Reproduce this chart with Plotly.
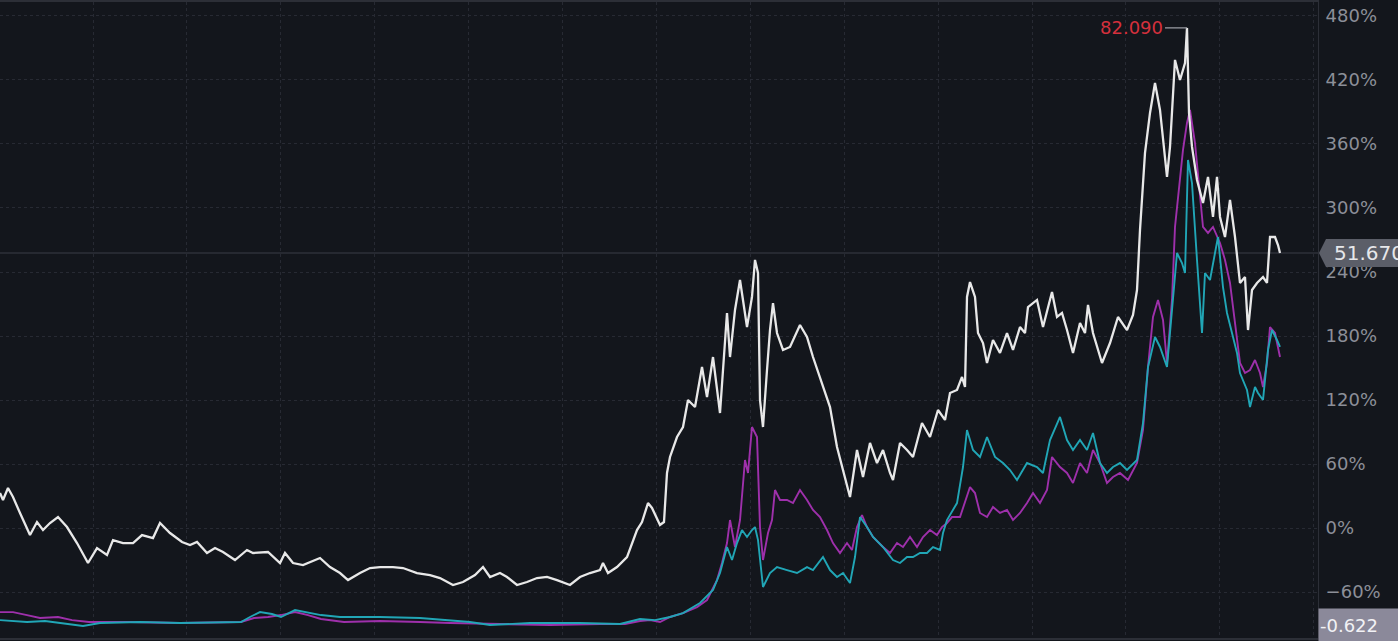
import plotly.graph_objects as go

# ---- data (trading-day index, % change) ----
white_day = [0, 3, 8, 13, 20, 30, 37, 43, 50, 58, 67, 77, 88, 97, 107, 113, 123, 133, 142, 153,
             160, 170, 182, 190, 197, 207, 215, 223, 235, 247, 253, 268, 280, 285, 293, 303, 320, 330, 340, 348,
             360, 370, 380, 393, 403, 417, 430, 440, 453, 463, 475, 483, 490, 500, 507, 517, 527, 537, 547, 557,
             570, 580, 590, 600, 603, 608, 617, 627, 637, 642, 648, 652, 660, 664, 667, 670, 677, 683, 688, 695,
             702, 707, 713, 720, 727, 730, 735, 740, 747, 752, 755, 758, 760, 763, 767, 770, 773, 777, 783, 790,
             800, 807, 813, 820, 830, 837, 843, 850, 857, 863, 870, 877, 883, 890, 893, 900, 907, 913, 922, 930,
             938, 945, 950, 957, 962, 965, 967, 970, 975, 978, 983, 987, 993, 1000, 1007, 1013, 1020, 1025, 1028, 1037,
             1043, 1052, 1057, 1062, 1067, 1073, 1080, 1085, 1088, 1093, 1102, 1110, 1118, 1127, 1133, 1137, 1140, 1145, 1150, 1155,
             1160, 1167, 1170, 1175, 1180, 1185, 1187, 1189, 1192, 1197, 1203, 1208, 1213, 1217, 1220, 1225, 1230, 1235, 1240, 1245,
             1248, 1252, 1257, 1263, 1267, 1270, 1275, 1278, 1280]
white_pct = [32.8, 26.3, 37.5, 29.1, 14.1, -6.6, 5.6, -1.9, 4.7, 10.3, 0.9, -14.1, -32.8, -18.8, -25.3, -11.3, -14.1, -14.1, -6.6, -9.4,
             4.7, -4.7, -13.1, -15.9, -13.1, -23.4, -18.8, -22.5, -30.0, -20.6, -23.4, -22.5, -32.8, -23.4, -32.8, -34.7, -28.1, -36.6, -42.2, -48.8,
             -42.2, -37.5, -36.6, -36.6, -37.5, -42.2, -44.1, -46.9, -53.4, -50.6, -44.1, -36.6, -45.9, -42.2, -45.9, -53.4, -50.6, -46.9, -45.9, -48.8,
             -53.4, -45.9, -42.2, -39.4, -32.8, -42.2, -36.6, -27.2, -1.9, 5.6, 23.4, 18.8, 2.8, 5.6, 51.6, 66.6, 85.3, 94.7, 120.0, 113.4,
             150.9, 122.8, 160.3, 107.8, 201.6, 160.3, 204.4, 232.5, 188.4, 216.6, 251.3, 239.1, 120.0, 94.7, 148.1, 185.6, 210.9, 182.8, 166.9, 169.7,
             190.3, 179.1, 160.3, 141.6, 113.4, 75.9, 54.4, 29.1, 73.1, 47.8, 79.7, 60.9, 73.1, 51.6, 45.0, 79.7, 73.1, 66.6, 98.4, 85.3,
             110.6, 101.3, 126.6, 129.4, 141.6, 132.2, 216.6, 230.6, 216.6, 182.8, 173.4, 154.7, 176.3, 164.1, 182.8, 166.9, 188.4, 182.8, 207.2, 213.8,
             188.4, 221.3, 197.8, 201.6, 185.6, 164.1, 192.2, 182.8, 209.1, 182.8, 154.7, 173.4, 197.8, 185.6, 199.7, 223.1, 279.4, 351.6, 389.1, 417.2,
             391.9, 329.1, 357.2, 438.8, 420.0, 435.9, 468.8, 389.1, 357.2, 326.3, 304.7, 329.1, 291.6, 329.1, 291.6, 272.8, 307.5, 272.8, 229.7, 235.3,
             185.6, 223.1, 229.7, 235.3, 229.7, 272.8, 272.8, 265.3, 257.8]

magenta_day = [0, 13, 27, 40, 58, 72, 89, 130, 180, 241, 254, 268, 281, 295, 308, 321, 344, 380, 420, 450,
               500, 550, 600, 625, 640, 650, 660, 670, 683, 697, 707, 713, 717, 722, 727, 730, 735, 740, 745, 748,
               752, 757, 760, 763, 768, 772, 775, 780, 787, 793, 800, 807, 813, 820, 827, 833, 840, 847, 852, 857,
               862, 867, 873, 883, 890, 897, 903, 910, 917, 923, 930, 937, 942, 947, 952, 960, 967, 970, 975, 980,
               987, 993, 1000, 1007, 1013, 1020, 1027, 1033, 1040, 1047, 1052, 1060, 1067, 1073, 1080, 1087, 1093, 1100, 1107, 1113,
               1120, 1128, 1137, 1143, 1148, 1153, 1158, 1163, 1167, 1172, 1175, 1180, 1183, 1187, 1190, 1195, 1200, 1203, 1208, 1213,
               1220, 1225, 1230, 1233, 1237, 1240, 1245, 1250, 1255, 1260, 1263, 1267, 1270, 1275, 1280]
magenta_pct = [-78.8, -78.8, -81.6, -84.4, -83.4, -86.3, -88.1, -88.1, -89.1, -88.1, -84.4, -83.4, -81.6, -78.8, -81.6, -85.3, -88.1, -87.2, -88.1, -89.1,
               -90.0, -90.9, -90.0, -90.0, -87.2, -86.3, -88.1, -83.4, -79.7, -74.1, -67.5, -55.3, -48.8, -32.8, -14.1, 7.5, -17.8, 7.5, 63.8, 51.6,
               94.7, 85.3, 0.9, -30.0, -4.7, 7.5, 35.6, 26.3, 26.3, 23.4, 35.6, 26.3, 16.9, 10.3, -1.9, -14.1, -23.4, -14.1, -20.6, 0.9,
               12.2, 0.9, -8.4, -17.8, -23.4, -14.1, -17.8, -8.4, -17.8, -8.4, -1.9, -6.6, 0.9, 4.7, 10.3, 10.3, 29.1, 38.4, 32.8, 14.1,
               10.3, 19.7, 14.1, 16.9, 7.5, 14.1, 23.4, 32.8, 23.4, 35.6, 66.6, 57.2, 51.6, 42.2, 60.9, 51.6, 73.1, 60.9, 42.2, 47.8,
               51.6, 45.0, 60.9, 91.9, 150.9, 197.8, 213.8, 195.0, 154.7, 213.8, 282.2, 326.3, 354.4, 379.7, 391.9, 360.9, 307.5, 282.2, 276.6, 282.2,
               267.2, 251.3, 229.7, 207.2, 182.8, 154.7, 145.3, 148.1, 157.5, 145.3, 132.2, 154.7, 188.4, 182.8, 160.3]

teal_day = [0, 13, 27, 45, 60, 83, 100, 140, 180, 241, 250, 260, 272, 281, 295, 305, 321, 340, 380, 420,
            470, 490, 530, 580, 620, 640, 655, 670, 683, 700, 713, 720, 727, 732, 737, 742, 747, 752, 755, 758,
            763, 770, 777, 787, 797, 807, 813, 823, 830, 837, 843, 850, 855, 860, 867, 873, 883, 893, 900, 907,
            913, 920, 927, 933, 940, 943, 947, 957, 963, 967, 973, 980, 987, 995, 1003, 1010, 1017, 1027, 1037, 1043,
            1050, 1060, 1067, 1073, 1080, 1087, 1093, 1100, 1107, 1113, 1120, 1127, 1137, 1143, 1148, 1155, 1160, 1167, 1172, 1177,
            1182, 1185, 1188, 1192, 1197, 1202, 1205, 1210, 1215, 1218, 1223, 1227, 1232, 1237, 1240, 1247, 1250, 1255, 1258, 1263,
            1268, 1272, 1277, 1280]
teal_pct = [-86.3, -87.2, -88.1, -87.2, -89.1, -91.9, -89.1, -88.1, -89.1, -88.1, -83.4, -78.8, -80.6, -83.4, -76.9, -78.8, -81.6, -83.4, -83.4, -84.4,
            -88.1, -90.9, -89.1, -89.1, -90.0, -85.3, -86.3, -83.4, -79.7, -70.3, -58.1, -42.2, -17.8, -30.0, -14.1, -1.9, -8.4, -1.9, 0.9, -11.3,
            -55.3, -42.2, -36.6, -39.4, -42.2, -36.6, -39.4, -27.2, -39.4, -45.9, -42.2, -51.6, -27.2, 10.3, 0.9, -8.4, -17.8, -30.0, -32.8, -27.2,
            -27.2, -23.4, -23.4, -17.8, -20.6, -4.7, 7.5, 23.4, 57.2, 91.9, 73.1, 66.6, 85.3, 66.6, 60.9, 54.4, 45.0, 60.9, 57.2, 51.6,
            82.5, 104.1, 82.5, 73.1, 82.5, 73.1, 89.1, 60.9, 51.6, 57.2, 60.9, 54.4, 63.8, 98.4, 150.9, 179.1, 169.7, 150.9, 201.6, 257.8,
            248.4, 239.1, 345.0, 323.4, 251.3, 182.8, 239.1, 232.5, 257.8, 272.8, 225.9, 201.6, 182.8, 164.1, 145.3, 129.4, 113.4, 132.2, 126.6, 120.0,
            166.9, 185.6, 176.3, 169.7]

peak_label = "82.090"
last_label = "51.670"
low_label = "-0.622"
low_level = -91.0

# ---- styling ----
BG = "#13161c"
GRID = "#272a33"
TICK = "#8c8f98"
FONT = "DejaVu Sans, Verdana, sans-serif"
Y_MIN, Y_MAX = -103.1, 493.1
X_MIN, X_MAX = 0, 1318

fig = go.Figure()
fig.add_trace(go.Scatter(x=magenta_day, y=magenta_pct, mode="lines",
                         line=dict(color="#9e30ab", width=1.9), hoverinfo="skip"))
fig.add_trace(go.Scatter(x=teal_day, y=teal_pct, mode="lines",
                         line=dict(color="#21a6b6", width=1.9), hoverinfo="skip"))
fig.add_trace(go.Scatter(x=white_day, y=white_pct, mode="lines",
                         line=dict(color="#e8e8e8", width=2.3), hoverinfo="skip"))

imax = max(range(len(white_pct)), key=lambda i: white_pct[i])
last_v = white_pct[-1]
last_paper_y = (last_v - Y_MIN) / (Y_MAX - Y_MIN)

fig.update_layout(
    width=1398, height=641,
    margin=dict(l=0, r=80, t=2, b=3),
    paper_bgcolor=BG, plot_bgcolor=BG,
    showlegend=False,
    font=dict(family=FONT),
    xaxis=dict(range=[X_MIN, X_MAX], showticklabels=False, ticks="",
               showgrid=True, gridcolor=GRID, griddash="dot", gridwidth=1,
               tick0=93, dtick=93.9, zeroline=False,
               showline=True, linecolor="#2c2f37", linewidth=2, mirror=True),
    yaxis=dict(range=[Y_MIN, Y_MAX], side="right", tick0=0, dtick=60,
               ticksuffix="%", tickfont=dict(size=18, color=TICK, family=FONT),
               showgrid=True, gridcolor=GRID, griddash="dot", gridwidth=1,
               zeroline=False, ticks="", ticklabelstandoff=3,
               showline=True, linecolor="#2c2f37", linewidth=1),
    shapes=[
        dict(type="line", xref="paper", yref="y", x0=0, x1=1, y0=last_v, y1=last_v,
             line=dict(color="#3a3d46", width=1), layer="below"),
        dict(type="path", xref="paper", yref="paper", xsizemode="pixel", ysizemode="pixel",
             xanchor=1, yanchor=last_paper_y,
             path="M 1,0 L 8,14 L 82,14 L 82,-14 L 8,-14 Z",
             fillcolor="#5b5e68", line=dict(width=0)),
    ],
    annotations=[
        dict(x=white_day[imax], y=white_pct[imax], xref="x", yref="y",
             text=peak_label, showarrow=True, ax=-22, ay=0, arrowhead=0,
             arrowwidth=1.2, arrowcolor="#9a9ca3", xanchor="right",
             font=dict(size=18, color="#d5303c", family=FONT)),
        dict(x=1, y=last_v, xref="paper", yref="y", xanchor="left", xshift=14,
             text=last_label, showarrow=False,
             font=dict(size=20, color="#e6e7ea", family=FONT)),
        dict(x=1, y=low_level, xref="paper", yref="y", xanchor="left",
             text=low_label, showarrow=False, bgcolor="#8b899a",
             width=80, height=31, align="left",
             font=dict(size=18, color="#f2f2f5", family=FONT)),
    ],
)

fig.write_html("out.html", config={"displayModeBar": False},
               post_script="document.body.style.margin='0px';")
